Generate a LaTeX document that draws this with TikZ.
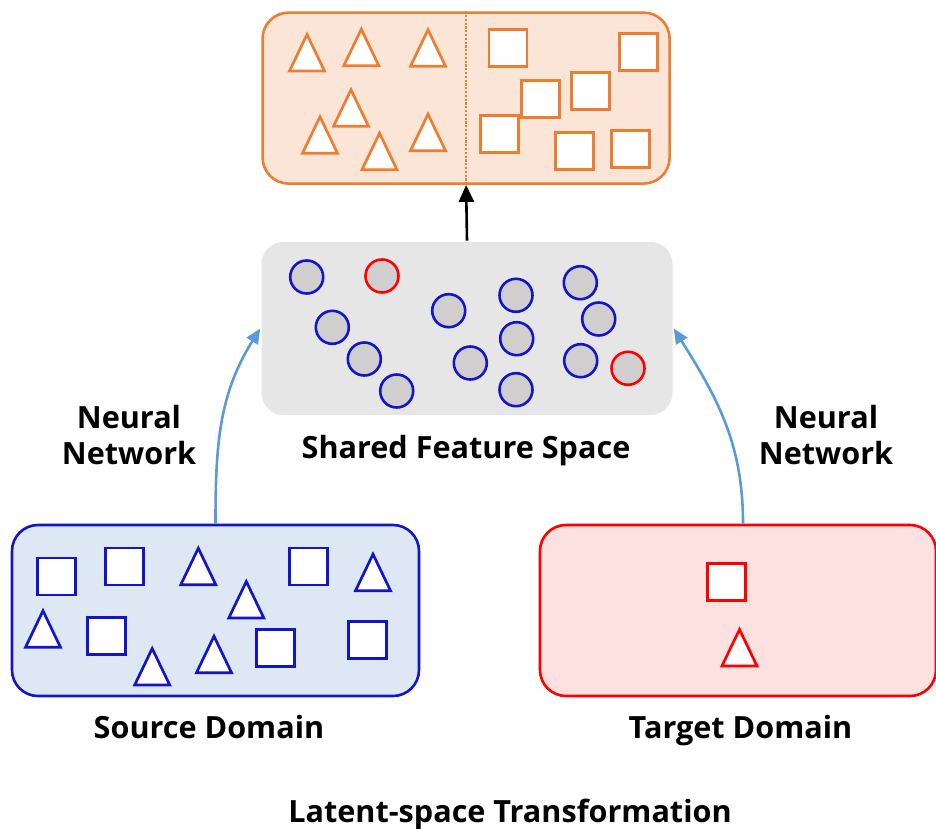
\documentclass[tikz,border=0pt]{standalone}
\usepackage{fontspec}
\setmainfont{Open Sans}
\usetikzlibrary{arrows.meta}

\definecolor{orangeline}{HTML}{ED7D31}
\definecolor{orangefill}{HTML}{FBE5D6}
\definecolor{grayfill}{HTML}{E7E6E6}
\definecolor{dotfill}{HTML}{D0CECE}
\definecolor{blueline}{HTML}{1414C8}
\definecolor{bluefill}{HTML}{DEE8F5}
\definecolor{redline}{HTML}{FF0000}
\definecolor{redfill}{HTML}{FDE1E1}
\definecolor{arrowblue}{HTML}{5B9BD5}

\tikzset{
  panel/.style={rectangle, rounded corners=26pt, line width=2.6pt, inner sep=0pt},
  sq/.style={rectangle, fill=white, line width=2.7pt, minimum width=38pt, minimum height=37pt, inner sep=0pt},
  dot/.style={circle, fill=dotfill, line width=2.6pt, minimum size=33pt, inner sep=0pt},
  tri/.pic={\path[pic actions] (-17.5,-1) -- (17.5,-1) -- (0,-37.5) -- cycle;},
  trishape/.style={draw=#1, fill=white, line width=2.7pt},
  lbl/.style={font=\fontsize{30.6}{35.5}\selectfont\bfseries, inner sep=0pt, align=center},
  flow/.style={draw=arrowblue, line width=2.6pt, -{Triangle[length=15pt,width=13pt]}},
}

\begin{document}
\begin{tikzpicture}[x=1pt,y=-1pt]
\useasboundingbox (0,0) rectangle (936,829);

% ---- panels ----
\node[panel, draw=orangeline, fill=orangefill, minimum width=407pt, minimum height=171pt] (classes) at (466.1,98.1) {};
\node[panel, draw=none, fill=grayfill, rounded corners=22pt, minimum width=411pt, minimum height=173pt] (feat) at (467,328.5) {};
\node[panel, draw=blueline, fill=bluefill, minimum width=407pt, minimum height=171pt] (src) at (215.5,610.5) {};
\node[panel, draw=redline, fill=redfill, minimum width=396pt, minimum height=171pt] (tgt) at (738,610.5) {};

% class separator
\draw[orangeline, line width=1.8pt, dash pattern=on 2.2pt off 1.6pt] (classes.north) -- (classes.south);

% ---- classified samples (top) ----
\foreach \x/\y in {307/72, 361.3/66.7, 428/67.3, 351/127.3, 320/154.3, 379.5/170.7, 428/151.7}
  \pic[trishape=orangeline] at (\x,\y) {tri};
\foreach \n/\x/\y in {o1/508/48.3, o2/638.2/52.2, o3/540.2/99.2, o4/590.5/91.3, o5/499.5/134.2, o6/574.5/150.7, o7/630.7/149}
  \node[sq, draw=orangeline] (\n) at (\x,\y) {};

% ---- shared feature space ----
\foreach \n/\x/\y/\c in {f1/306.7/277/blueline, f2/382/276/redline, f3/332.3/327.3/blueline,
    f4/364.3/359/blueline, f5/396.7/391/blueline, f6/448.7/310.7/blueline, f7/470.3/363/blueline,
    f8/516/295.3/blueline, f9/516.7/338.7/blueline, f10/516/389.7/blueline, f11/580.3/282.7/blueline,
    f12/598.7/319/blueline, f13/580.7/360.7/blueline, f14/628/368.3/redline}
  \node[dot, draw=\c] (\n) at (\x,\y) {};

% ---- source domain ----
\foreach \n/\x/\y in {s1/56.2/576.5, s2/124.8/566.5, s3/308.3/566.5, s4/106.3/635.7, s5/275.8/647.7, s6/367.3/640.3}
  \node[sq, draw=blueline] (\n) at (\x,\y) {};
\foreach \x/\y in {198.3/585.7, 246.3/619, 373/591.7, 43/648.3, 152.2/686, 214/673.7}
  \pic[trishape=blueline] at (\x,\y) {tri};

% ---- target domain ----
\node[sq, draw=redline] (t1) at (726.8,581.8) {};
\pic[trishape=redline] at (739.5,667) {tri};

% ---- connectors ----
\draw[line width=2.6pt, -{Triangle[length=17pt,width=15pt]}] (feat.north) -- (classes.south);
\draw[flow] (src.north) to[out=90, in=238] (feat.west);
\draw[flow] ([xshift=5pt]tgt.north) to[out=90, in=-58] (feat.east);

% ---- labels ----
\node[lbl] (nnleft) at (129,435) {Neural\\Network};
\node[lbl] (nnright) at (826,435) {Neural\\Network};
\node[lbl, anchor=base] (featlbl) at (466,458.3) {Shared Feature Space};
\node[lbl, anchor=base] (srclbl) at (209,738) {Source Domain};
\node[lbl, anchor=base] (tgtlbl) at (740.5,738) {Target Domain};
\node[lbl, anchor=base] (title) at (510,822.3) {Latent-space Transformation};
\end{tikzpicture}
\end{document}
